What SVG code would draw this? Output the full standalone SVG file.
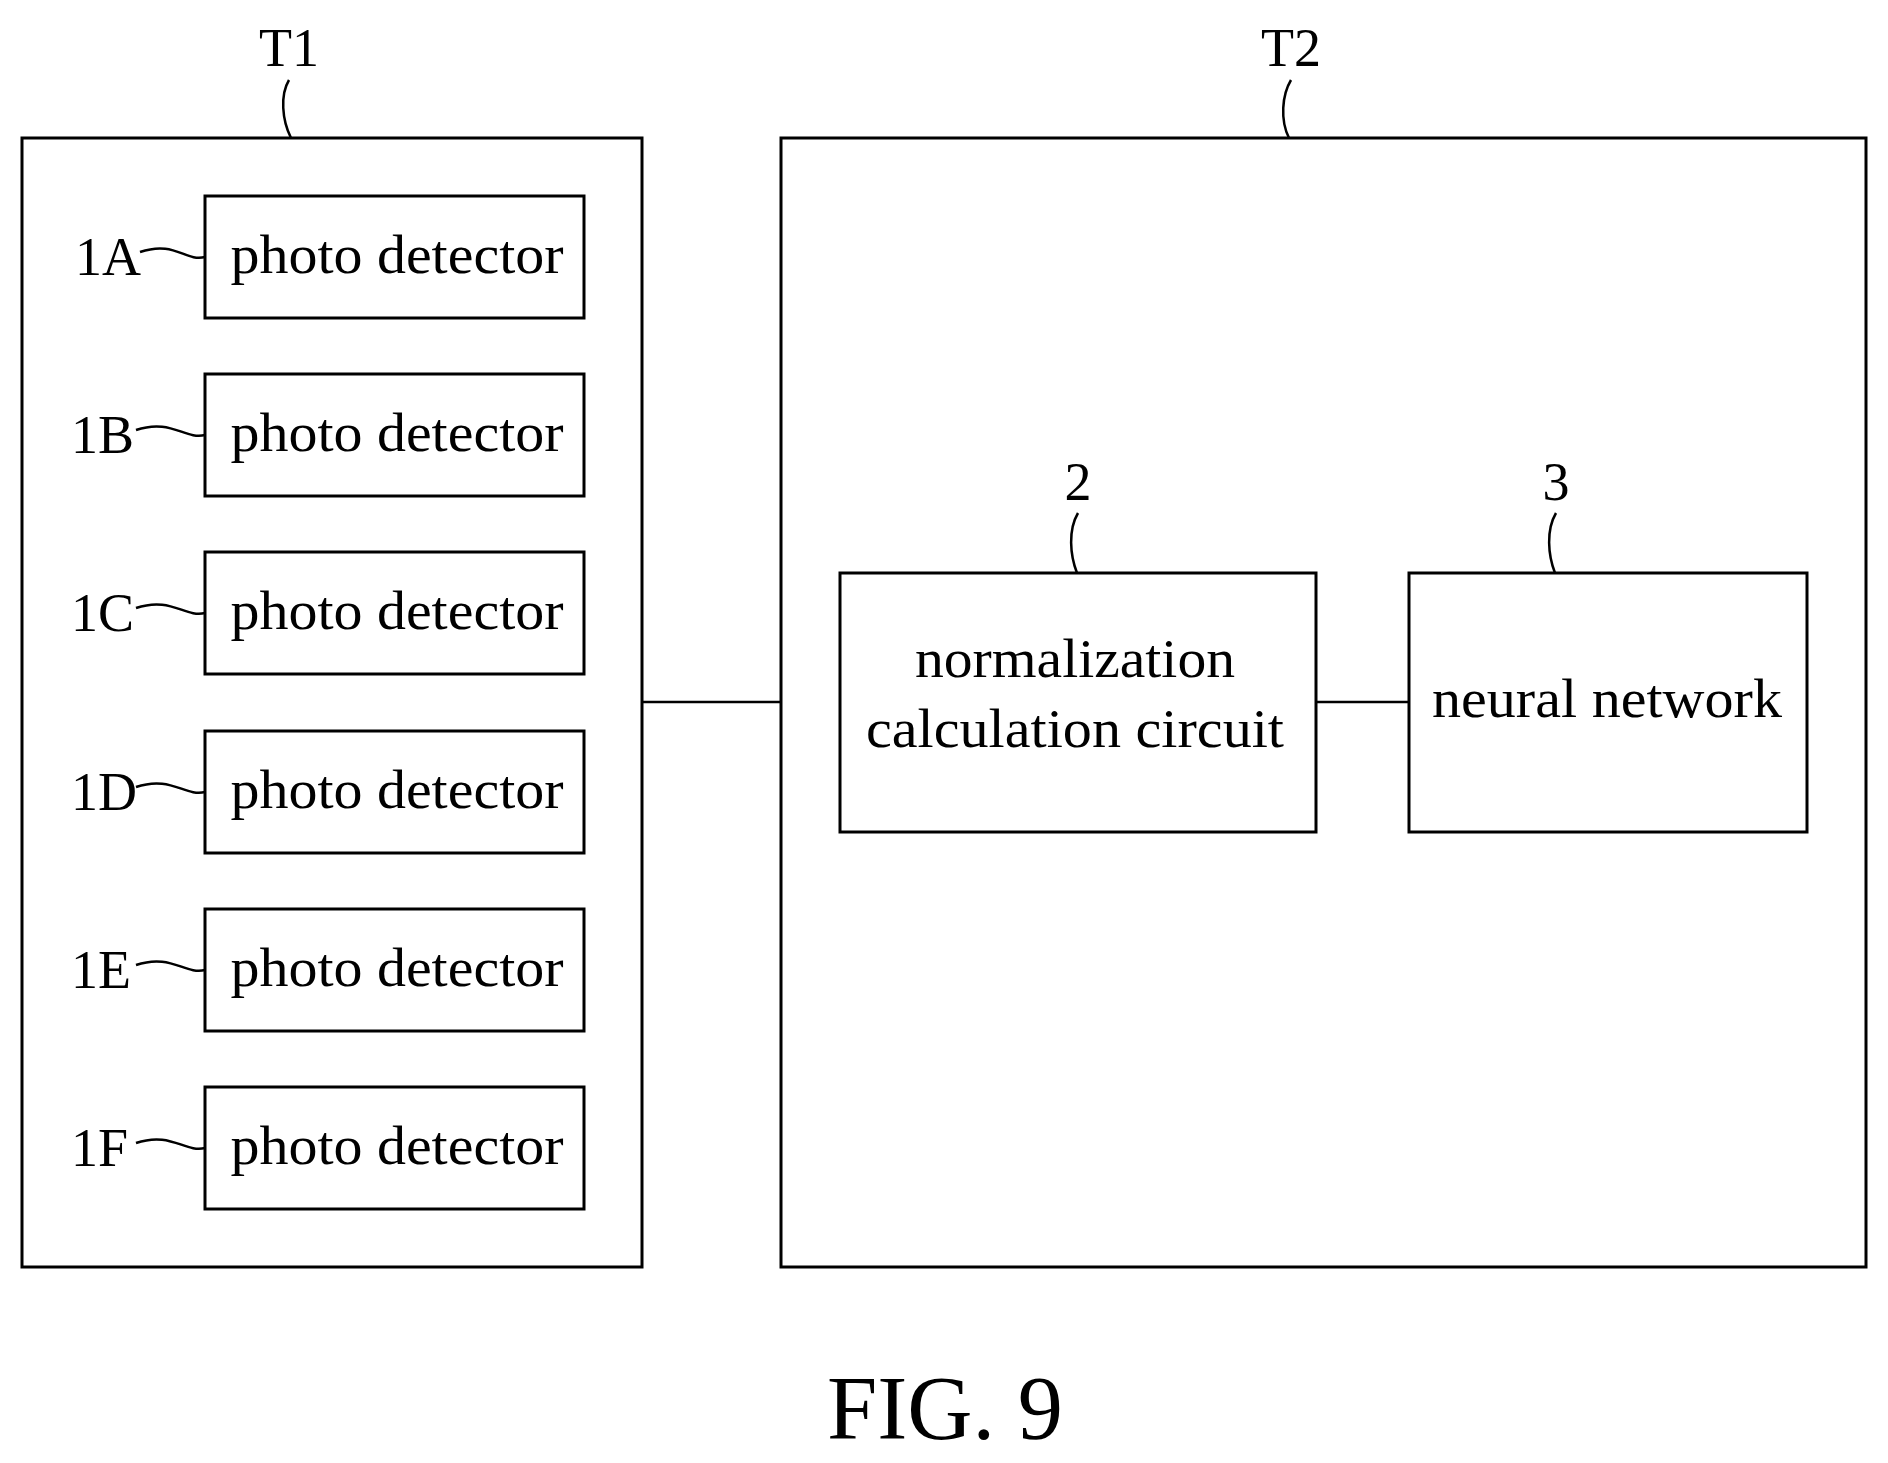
<svg xmlns="http://www.w3.org/2000/svg" width="1888" height="1463" viewBox="0 0 1888 1463">
<style>
rect{fill:#fff;stroke:#000;stroke-width:3}
path,line{fill:none;stroke:#000;stroke-width:2.5}
text{font-family:"Liberation Serif",serif;fill:#000}
.t{font-size:54px;text-anchor:middle}
.l{font-size:54px}
</style>
<rect width="1888" height="1463" style="fill:#fff;stroke:none"/>
<g id="T1"><rect x="22" y="138" width="620" height="1129"/><text class="t" x="289" y="66">T1</text><path d="M289 80 C280 95 282 120 291 138"/></g>
<g id="T2"><rect x="781" y="138" width="1085" height="1129"/><text class="t" x="1291" y="66">T2</text><path d="M1291 80 C1282 95 1280 120 1289 138"/></g>
<g id="pd1A"><rect x="205" y="196" width="379" height="122"/><text class="t" x="397" y="273" textLength="333" lengthAdjust="spacingAndGlyphs">photo detector</text><text class="l" x="75" y="275">1A</text><path d="M140 252 C175 240 185 262 205 257"/></g>
<g id="pd1B"><rect x="205" y="374" width="379" height="122"/><text class="t" x="397" y="451" textLength="333" lengthAdjust="spacingAndGlyphs">photo detector</text><text class="l" x="71" y="453">1B</text><path d="M136 430 C171 418 185 440 205 435"/></g>
<g id="pd1C"><rect x="205" y="552" width="379" height="122"/><text class="t" x="397" y="629" textLength="333" lengthAdjust="spacingAndGlyphs">photo detector</text><text class="l" x="71" y="631">1C</text><path d="M136 608 C171 596 185 618 205 613"/></g>
<g id="pd1D"><rect x="205" y="731" width="379" height="122"/><text class="t" x="397" y="808" textLength="333" lengthAdjust="spacingAndGlyphs">photo detector</text><text class="l" x="71" y="810">1D</text><path d="M136 787 C171 775 185 797 205 792"/></g>
<g id="pd1E"><rect x="205" y="909" width="379" height="122"/><text class="t" x="397" y="986" textLength="333" lengthAdjust="spacingAndGlyphs">photo detector</text><text class="l" x="71" y="988">1E</text><path d="M136 965 C171 953 185 975 205 970"/></g>
<g id="pd1F"><rect x="205" y="1087" width="379" height="122"/><text class="t" x="397" y="1164" textLength="333" lengthAdjust="spacingAndGlyphs">photo detector</text><text class="l" x="71" y="1166">1F</text><path d="M136 1143 C171 1131 185 1153 205 1148"/></g>
<g id="n2"><rect x="840" y="573" width="476" height="259"/><text class="t" x="1075" y="677" textLength="320" lengthAdjust="spacingAndGlyphs">normalization</text><text class="t" x="1075" y="747" textLength="418" lengthAdjust="spacingAndGlyphs">calculation circuit</text><text class="t" x="1078" y="500">2</text><path d="M1078 513 C1068 530 1070 555 1077 573"/></g>
<g id="n3"><rect x="1409" y="573" width="398" height="259"/><text class="t" x="1607" y="717" textLength="350" lengthAdjust="spacingAndGlyphs">neural network</text><text class="t" x="1556" y="500">3</text><path d="M1556 513 C1546 530 1548 555 1555 573"/></g>
<g id="connectors"><line x1="642" y1="702" x2="781" y2="702"/><line x1="1316" y1="702" x2="1409" y2="702"/></g>
<text class="t" x="945" y="1439" style="font-size:90px" textLength="236" lengthAdjust="spacingAndGlyphs">FIG. 9</text>
</svg>
